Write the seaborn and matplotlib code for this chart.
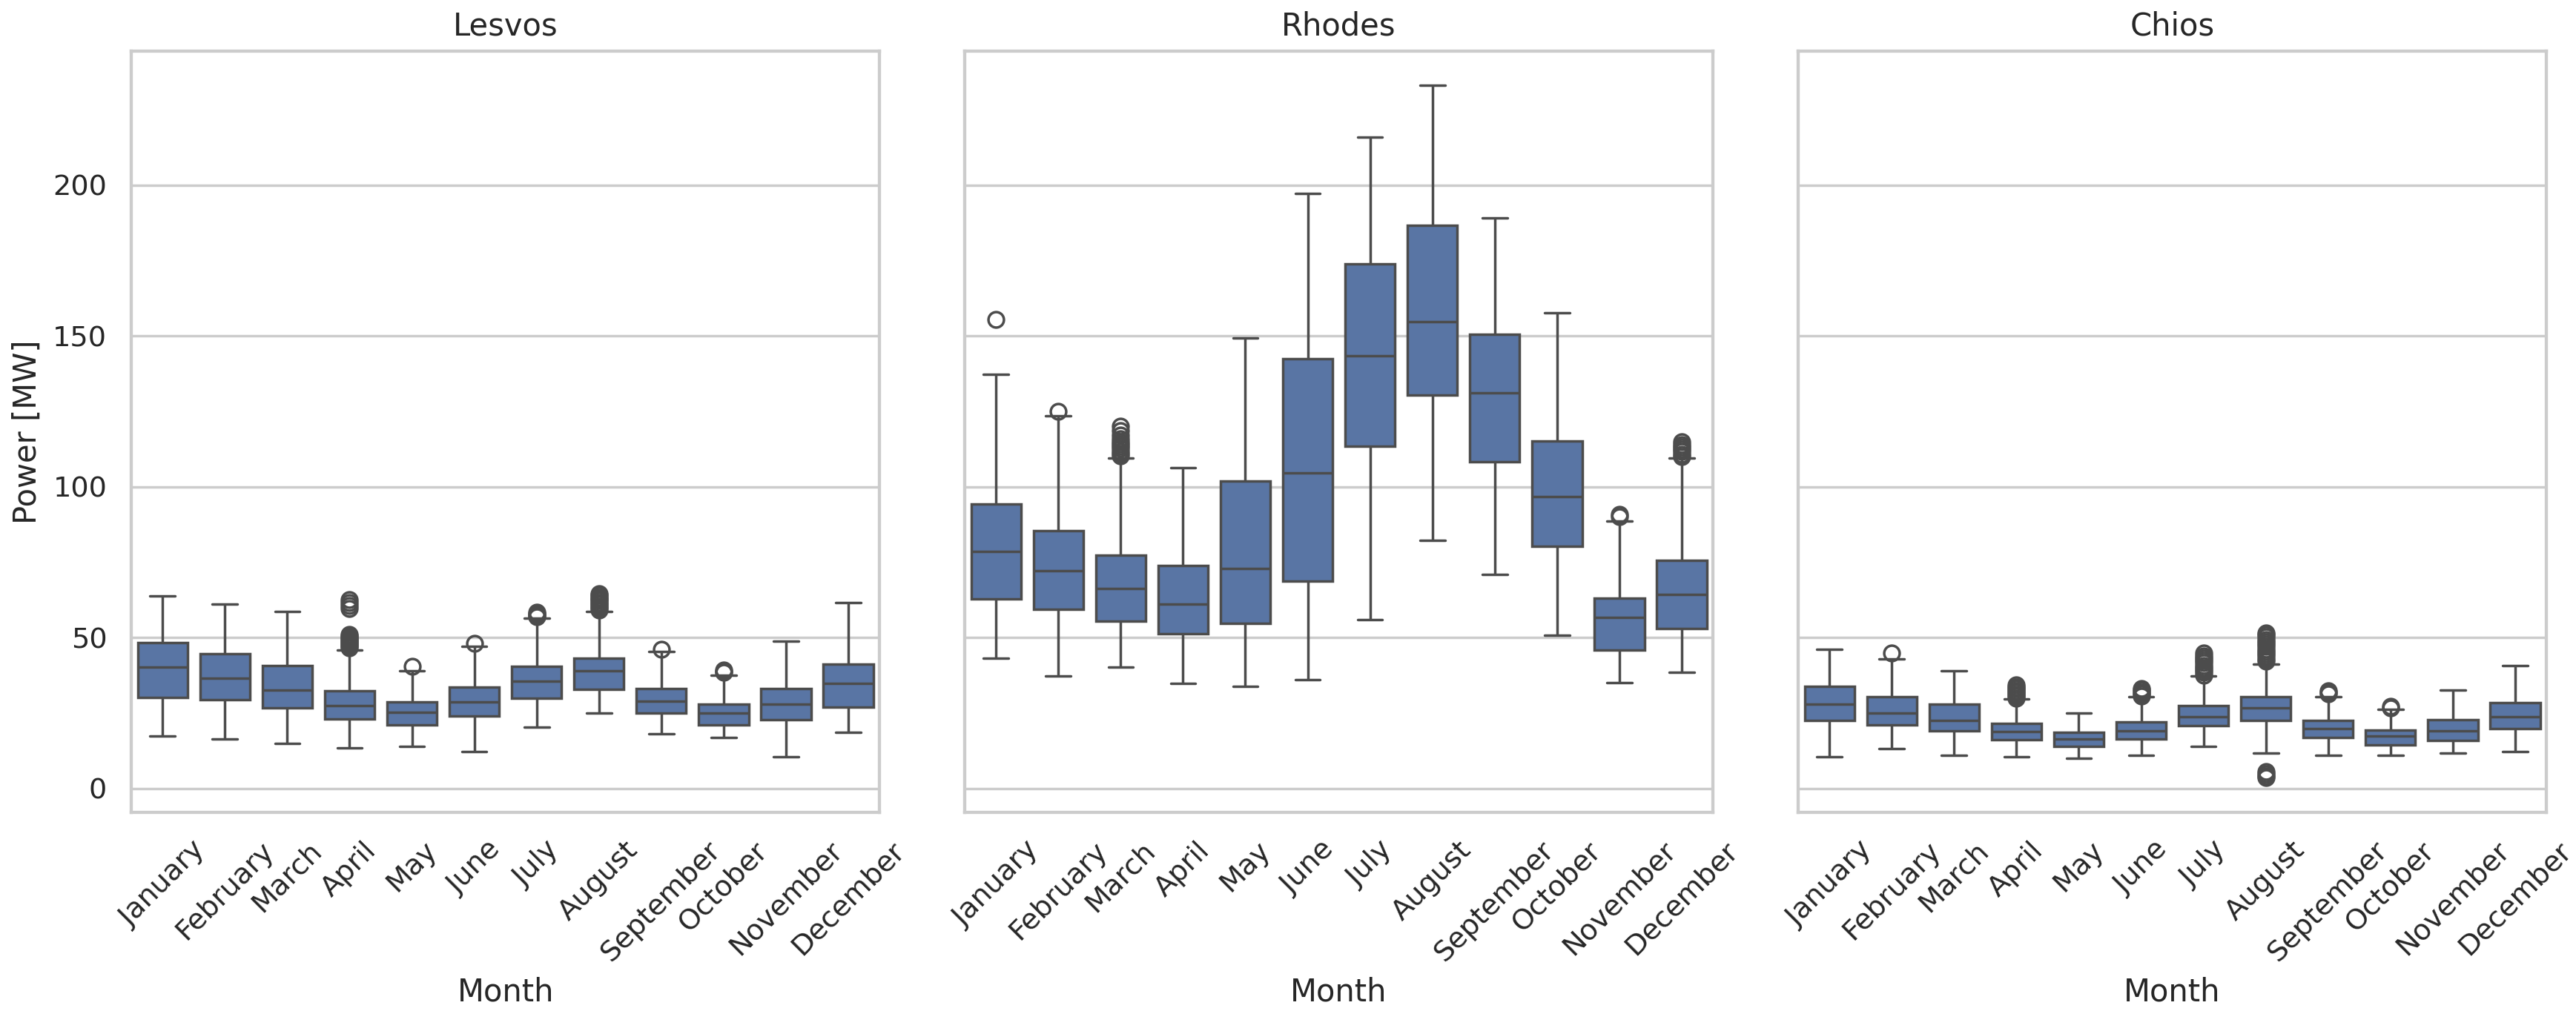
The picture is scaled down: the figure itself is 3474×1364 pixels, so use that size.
import numpy as np
import pandas as pd
import matplotlib
matplotlib.use("Agg")
import matplotlib.pyplot as plt
import seaborn as sns

MONTHS = ["January", "February", "March", "April", "May", "June", "July",
          "August", "September", "October", "November", "December"]
ISLANDS = ["Lesvos", "Rhodes", "Chios"]

# ---- Lesvos (MW) ----
LESVOS_LOW = [17.4, 16.3, 15.0, 13.4, 14.0, 12.2, 20.3, 25.0, 18.0, 16.8, 10.4, 18.7]
LESVOS_Q1 = [30.1, 29.4, 26.7, 23.0, 21.0, 24.0, 29.8, 32.8, 25.0, 21.0, 22.7, 26.9]
LESVOS_MED = [40.2, 36.6, 32.5, 27.4, 25.1, 28.6, 35.5, 38.9, 29.0, 25.0, 27.9, 34.8]
LESVOS_Q3 = [48.3, 44.7, 40.8, 32.3, 28.6, 33.5, 40.5, 43.2, 33.2, 27.9, 33.2, 41.3]
LESVOS_HIGH = [63.9, 61.0, 58.6, 45.9, 38.9, 47.1, 56.4, 58.7, 45.4, 37.4, 48.8, 61.7]
LESVOS_OUT = [
    [], [], [],
    [46.6, 47.0, 47.5, 48.0, 48.5, 49.0, 49.5, 50.0, 50.5, 51.0, 59.5, 60.5, 61.5, 62.5],
    [40.5], [48.0],
    [56.8, 57.2, 57.6, 58.0, 58.4],
    [59.2, 59.8, 60.4, 61.0, 61.6, 62.2, 62.8, 63.4, 64.0, 64.6],
    [46.0], [38.4, 38.8, 39.2], [], [],
]

# ---- Rhodes (MW) ----
RHODES_LOW = [43.1, 37.3, 40.1, 34.9, 33.7, 36.1, 56.0, 82.1, 71.0, 50.7, 35.1, 38.5]
RHODES_Q1 = [62.8, 59.4, 55.4, 51.3, 54.8, 68.8, 113.4, 130.3, 108.2, 80.3, 45.8, 53.0]
RHODES_MED = [78.5, 72.2, 66.3, 61.0, 72.8, 104.6, 143.3, 154.6, 131.0, 96.7, 56.6, 64.2]
RHODES_Q3 = [94.2, 85.5, 77.2, 73.9, 101.8, 142.4, 173.9, 186.6, 150.6, 115.1, 63.0, 75.7]
RHODES_HIGH = [137.3, 123.4, 109.4, 106.4, 149.4, 197.2, 216.0, 233.0, 189.1, 157.6, 88.5, 109.4]
RHODES_OUT = [
    [155.4], [124.9],
    [110.2, 111.0, 111.8, 112.6, 113.4, 114.2, 115.0, 116.0, 117.0, 118.5, 120.0],
    [], [], [], [], [], [], [],
    [90.2, 90.9],
    [110.0, 110.8, 111.6, 112.4, 113.2, 114.0, 114.8],
]

# ---- Chios (MW) ----
CHIOS_LOW = [10.4, 13.3, 11.0, 10.4, 9.9, 11.0, 14.0, 11.7, 11.0, 11.0, 11.7, 12.3]
CHIOS_Q1 = [22.5, 21.0, 19.2, 16.2, 14.0, 16.3, 20.8, 22.5, 16.9, 14.5, 16.0, 19.7]
CHIOS_MED = [28.0, 25.0, 22.6, 18.8, 16.3, 19.2, 23.8, 26.7, 19.7, 17.4, 19.2, 23.8]
CHIOS_Q3 = [33.7, 30.3, 27.9, 21.6, 18.6, 22.0, 27.4, 30.3, 22.6, 19.3, 22.8, 28.5]
CHIOS_HIGH = [46.0, 43.0, 38.9, 29.6, 25.0, 30.3, 37.2, 41.3, 30.3, 26.2, 32.6, 40.7]
CHIOS_OUT = [
    [], [44.8], [],
    [30.0, 30.6, 31.2, 31.8, 32.4, 33.0, 33.6, 34.2],
    [],
    [30.7, 31.3, 31.9, 32.5, 33.0],
    [37.6, 38.4, 39.2, 40.0, 40.8, 41.6, 42.4, 43.2, 44.0, 44.8],
    [3.5, 4.2, 4.9, 5.6, 42.2, 43.0, 43.8, 44.6, 45.4, 46.2, 47.0, 47.8, 48.6, 49.4, 50.2, 51.0, 51.6],
    [31.3, 31.8, 32.3],
    [26.7, 27.2], [], [],
]

STATS = {
    "Lesvos": (LESVOS_LOW, LESVOS_Q1, LESVOS_MED, LESVOS_Q3, LESVOS_HIGH, LESVOS_OUT),
    "Rhodes": (RHODES_LOW, RHODES_Q1, RHODES_MED, RHODES_Q3, RHODES_HIGH, RHODES_OUT),
    "Chios": (CHIOS_LOW, CHIOS_Q1, CHIOS_MED, CHIOS_Q3, CHIOS_HIGH, CHIOS_OUT),
}


def month_sample(lo, q1, med, q3, hi, outs):
    """Build a sample (4k+1 points) whose quartiles/whiskers equal the read stats."""
    low_out = sorted(v for v in outs if v < q1)
    high_out = sorted(v for v in outs if v > q3)
    a, b = len(low_out), len(high_out)
    k = max(a, b) + 1
    vals = (low_out + [lo] + [q1] * (k - a) + [med] * k + [q3] * k
            + [hi] * (k - b) + high_out)
    return vals


rows = []
for isl in ISLANDS:
    lo_, q1_, med_, q3_, hi_, out_ = STATS[isl]
    for i, m in enumerate(MONTHS):
        for v in month_sample(lo_[i], q1_[i], med_[i], q3_[i], hi_[i], out_[i]):
            rows.append((isl, m, v))
df = pd.DataFrame(rows, columns=["Island", "Month", "Power"])

sns.set_theme(style="whitegrid")
plt.rcParams["font.family"] = ["DejaVu Sans"]

DPI = 250
fig, axes = plt.subplots(1, 3, figsize=(3474 / DPI, 1364 / DPI), dpi=DPI, sharey=True)
for ax, isl in zip(axes, ISLANDS):
    sub = df[df["Island"] == isl]
    sns.boxplot(data=sub, x="Month", y="Power", order=MONTHS, ax=ax)
    ax.set_title(isl)
    ax.set_xlabel("Month")
    ax.tick_params(axis="x", rotation=45)
    ax.set_ylabel("")
axes[0].set_ylabel("Power [MW]")

fig.subplots_adjust(left=0.051, right=0.9885, top=0.9497, bottom=0.1964, wspace=0.114)
fig.savefig("out.png", dpi=DPI)
